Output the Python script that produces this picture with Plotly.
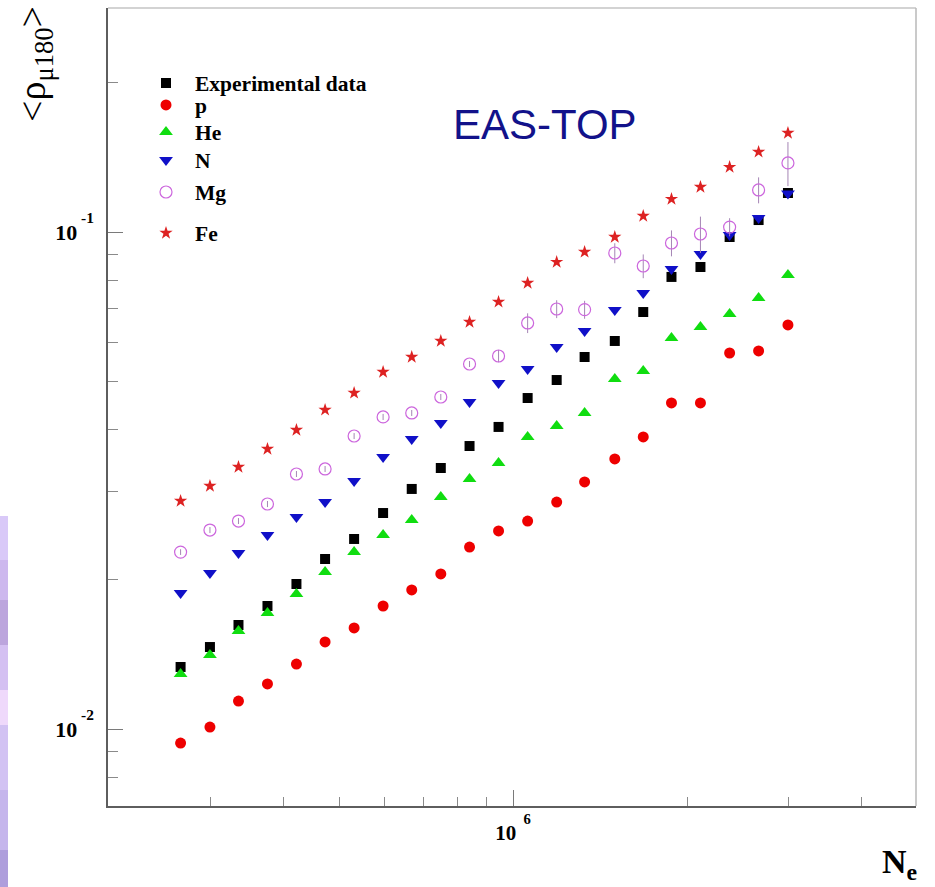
import plotly.graph_objects as go

# Shower size bins (N_e) and mean muon density at 180 m for data and simulated primaries
ne = [2.66e5, 2.99e5, 3.35e5, 3.76e5, 4.22e5, 4.73e5, 5.31e5, 5.96e5, 6.68e5, 7.50e5, 8.41e5,
      9.44e5, 1.06e6, 1.19e6, 1.33e6, 1.50e6, 1.68e6, 1.88e6, 2.11e6, 2.37e6, 2.66e6, 2.99e6]

rho_exp = [0.01333, 0.01462, 0.01619, 0.01768, 0.01958, 0.02198, 0.02412, 0.02720, 0.03041, 0.03351, 0.03710,
           0.04053, 0.04634, 0.05037, 0.05604, 0.06036, 0.06902, 0.08121, 0.08504, 0.09770, 0.1057, 0.1198]
rho_p = [0.00937, 0.01009, 0.01138, 0.01232, 0.01351, 0.01497, 0.01597, 0.01768, 0.01905, 0.02051, 0.02323,
         0.02503, 0.02621, 0.02862, 0.03141, 0.03494, 0.03869, 0.04529, 0.04529, 0.05709, 0.05763, 0.06503]
rho_he = [0.01290, 0.01409, 0.01575, 0.01712, 0.01869, 0.02070, 0.02270, 0.02457, 0.02633, 0.02929, 0.03184,
          0.03429, 0.03869, 0.04072, 0.04324, 0.05061, 0.05252, 0.06120, 0.06441, 0.06839, 0.07366, 0.08196]
rho_n = [0.01878, 0.02060, 0.02260, 0.02457, 0.02671, 0.02862, 0.03155, 0.03526, 0.03833, 0.04129, 0.04550,
         0.04968, 0.05302, 0.05870, 0.06322, 0.06968, 0.07539, 0.08426, 0.09030, 0.09863, 0.1067, 0.1195]
rho_mg = [0.02270, 0.02514, 0.02621, 0.02836, 0.03259, 0.03336, 0.03886, 0.04245, 0.04324, 0.04656, 0.05425,
          0.05630, 0.06561, 0.07000, 0.06980, 0.09072, 0.08543, 0.09504, 0.09908, 0.1023, 0.1215, 0.1377]
rho_mg_err = [0.0003, 0.00035, 0.00036, 0.0004, 0.00045, 0.00046, 0.00054, 0.0006, 0.0006, 0.00065, 0.00075,
              0.0016, 0.0030, 0.0029, 0.0029, 0.0042, 0.0047, 0.0057, 0.0083, 0.0043, 0.0073, 0.0140]
rho_fe = [0.02876, 0.03083, 0.03367, 0.03659, 0.03996, 0.04385, 0.04744, 0.05228, 0.05604, 0.06036, 0.06591,
          0.07232, 0.07897, 0.08701, 0.09117, 0.0977, 0.1077, 0.1165, 0.1232, 0.1351, 0.1449, 0.1582]

series_names = ["Experimental data", "p", "He", "N", "Mg", "Fe"]


def pow10_label(exp_text):
    # "10" with a raised exponent, in the ROOT-like bold serif style
    return ("<b>10</b><sup><span style='baseline-shift:7px'><b>" + exp_text + "</b></span></sup>")


x_major = [1e6]
x_major_text = [pow10_label("&nbsp;&nbsp;6")]
x_minor = [3e5, 4e5, 5e5, 6e5, 7e5, 8e5, 9e5, 2e6, 3e6, 4e6]
y_major = [0.01, 0.1]
y_major_text = [pow10_label("&nbsp;-2"), pow10_label("&nbsp;-1")]
y_minor = [0.008, 0.009, 0.02, 0.03, 0.04, 0.05, 0.06, 0.07, 0.08, 0.09, 0.2]

SERIF = "Liberation Serif"

styles = [
    dict(symbol="square", color="#000000", size=10),
    dict(symbol="circle", color="#ee0000", size=11),
    dict(symbol="triangle-up", color="#10dd10", size=12),
    dict(symbol="triangle-down", color="#1010c8", size=12),
    dict(symbol="circle-open", color="#cc66dd", size=12, line=dict(width=1.2, color="#cc66dd")),
    dict(symbol="star", color="#dd2222", size=10),
]
values = [rho_exp, rho_p, rho_he, rho_n, rho_mg, rho_fe]
legend_ids = ["legend", "legend2", "legend3", "legend4", "legend5", "legend6"]
legend_rows = [83, 105, 132, 160, 192, 233]  # pixel rows of the key entries

fig = go.Figure()
for name, vals, st, lid in zip(series_names, values, styles, legend_ids):
    kw = {}
    marker = dict(st)
    if name == "Mg":
        kw["error_y"] = dict(type="data", array=rho_mg_err, visible=True,
                             color="#a585b5", thickness=1, width=0)
    else:
        marker["line"] = dict(width=0)
    fig.add_trace(go.Scatter(x=ne, y=vals, mode="markers", name=name, legend=lid,
                             marker=marker, **kw))

W, H = 935, 887
L, R, T, B = 108, 19, 8, 81
pw, ph = W - L - R, H - T - B


def px_to_paper_x(px):
    return (px - L) / pw


def px_to_paper_y(py):
    return (H - B - py) / ph


legend_common = dict(
    bgcolor="rgba(0,0,0,0)", borderwidth=0,
    font=dict(family=SERIF, size=21.5, color="#000000", weight="bold"),
    xanchor="left", yanchor="middle", itemwidth=48,
)
layout_legends = {}
for lid, row in zip(legend_ids, legend_rows):
    layout_legends[lid] = dict(x=px_to_paper_x(137), y=px_to_paper_y(row), **legend_common)

fig.update_layout(
    width=W, height=H,
    margin=dict(l=L, r=R, t=T, b=B, pad=0),
    paper_bgcolor="#ffffff", plot_bgcolor="#ffffff",
    showlegend=True,
    **layout_legends,
    xaxis=dict(
        type="log", range=[5.2993, 6.6972],
        showgrid=False, zeroline=False,
        showline=True, linecolor="#5e5e5e", linewidth=1.5,
        ticks="inside", ticklen=16, tickwidth=1, tickcolor="#7a7a7a",
        tickmode="array", tickvals=x_major, ticktext=x_major_text,
        tickfont=dict(family=SERIF, size=21, color="#000000"),
        ticklabelposition="outside", ticklabelstandoff=7,
        minor=dict(ticks="inside", ticklen=9, tickwidth=1, tickcolor="#8a8a8a",
                   tickmode="array", tickvals=x_minor, showgrid=False),
    ),
    yaxis=dict(
        type="log", range=[-2.1549, -0.5493],
        showgrid=False, zeroline=False,
        showline=True, linecolor="#5e5e5e", linewidth=1.5,
        ticks="inside", ticklen=15, tickwidth=1, tickcolor="#7a7a7a",
        tickmode="array", tickvals=y_major, ticktext=y_major_text,
        tickfont=dict(family=SERIF, size=22, color="#000000"),
        ticklabelposition="outside", ticklabelstandoff=8,
        minor=dict(ticks="inside", ticklen=10, tickwidth=1, tickcolor="#8a8a8a",
                   tickmode="array", tickvals=y_minor, showgrid=False),
    ),
)

# light frame on the top and right sides of the plotting area
fig.add_shape(type="line", xref="paper", yref="paper", x0=0, x1=1, y0=1, y1=1,
              line=dict(color="#c4c4c4", width=1.5))
fig.add_shape(type="line", xref="paper", yref="paper", x0=1, x1=1, y0=0, y1=1,
              line=dict(color="#b8b8b8", width=1.5))

# lavender strip along the left edge of the page
strip_bands = [(516, 560, "#d9c9f8"), (560, 600, "#cdb8ee"), (600, 645, "#bca5dd"),
               (645, 690, "#d4c0f2"), (690, 725, "#efd9fb"), (725, 790, "#d2c2f3"),
               (790, 850, "#c5b5ec"), (850, 887, "#ae9edc")]
for y0, y1, col in strip_bands:
    fig.add_shape(type="rect", xref="paper", yref="paper",
                  x0=px_to_paper_x(0), x1=px_to_paper_x(8),
                  y0=px_to_paper_y(y1), y1=px_to_paper_y(y0),
                  line=dict(width=0), fillcolor=col, layer="below")

fig.add_annotation(text="EAS-TOP", xref="paper", yref="paper",
                   x=px_to_paper_x(545), y=px_to_paper_y(125), xanchor="center", yanchor="middle",
                   showarrow=False,
                   font=dict(family="Liberation Sans", size=42, color="#12128a"))
fig.add_annotation(text="&lt;ρ<sub>μ180</sub>&gt;", xref="paper", yref="paper",
                   x=px_to_paper_x(35), y=px_to_paper_y(64), xanchor="center", yanchor="middle",
                   showarrow=False, textangle=-90,
                   font=dict(family=SERIF, size=38, color="#000000"))
fig.add_annotation(text="<b>N<sub>e</sub></b>", xref="paper", yref="paper",
                   x=px_to_paper_x(899), y=px_to_paper_y(864), xanchor="center", yanchor="middle",
                   showarrow=False,
                   font=dict(family=SERIF, size=34, color="#000000"))

fig.write_html("out.html")
